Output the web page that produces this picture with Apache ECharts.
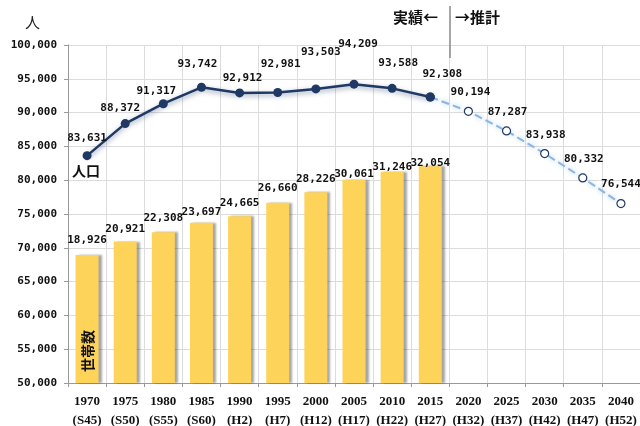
<!DOCTYPE html>
<html>
<head>
<meta charset="utf-8">
<script src="https://cdn.jsdelivr.net/npm/echarts@6/dist/echarts.min.js"></script>
<style>html,body{margin:0;padding:0;background:#fff;}#c{width:640px;height:426px;}</style>
</head>
<body>
<div id="c"></div>
<script>
const years = ['1970','1975','1980','1985','1990','1995','2000','2005','2010','2015','2020','2025','2030','2035','2040'];
const eras = ['S45','S50','S55','S60','H2','H7','H12','H17','H22','H27','H32','H37','H42','H47','H52'];
const population = [83631, 88372, 91317, 93742, 92912, 92981, 93503, 94209, 93588, 92308, 90194, 87287, 83938, 80332, 76544];
const households = [18926, 20921, 22308, 23697, 24665, 26660, 28226, 30061, 31246, 32054];
const actualCount = 10;
const yTicks = {min: 50000, max: 100000, step: 5000};

function fmt(v){ return String(v).replace(/\B(?=(\d{3})+(?!\d))/g, ','); }

// label placement styling (pixel lift above the point, horizontal shift)
const popLift = [19,16,14,24,16,29,38,41,26,24,20,20,19,20,20];
const popShift = [0,-5,-7,-4,3,3,5,4,6,12,2,1,1,1,0];
const barLift = [16,14,16,12,15,16,15,7,6,5];

const cats = years.map((y,i)=> y + '\n(' + eras[i] + ')');
const numFont = {fontFamily:'DejaVu Sans Mono', fontWeight:'bold', fontSize:11, color:'#111'};

function popItem(v,i){
  return {value:v, label:{offset:[popShift[i], -(popLift[i]-11)]}};
}
const actual = population.map((v,i)=> i < actualCount ? popItem(v,i) : '-');
const forecast = population.map((v,i)=> i >= actualCount-1 ? popItem(v,i) : '-');
const bars = households.map((v,i)=> ({value:v, label:{offset:[0, -(barLift[i]-7)]}}));

const chart = echarts.init(document.getElementById('c'));
chart.setOption({
  animation:false,
  backgroundColor:'#fff',
  grid:{left:68, right:0, top:45, bottom:43, containLabel:false, outerBoundsMode:'none'},
  xAxis:{
    type:'category', data:cats, boundaryGap:true,
    axisLine:{lineStyle:{color:'#999'}},
    axisTick:{show:true, length:4, lineStyle:{color:'#999'}},
    splitLine:{show:true, lineStyle:{color:'#dcdcdc'}},
    axisLabel:{interval:0, margin:9, fontFamily:'Liberation Serif', fontWeight:'bold', fontSize:13, lineHeight:19, color:'#111'}
  },
  yAxis:[{
    type:'value', min:yTicks.min, max:yTicks.max, interval:yTicks.step,
    axisLine:{show:true, lineStyle:{color:'#999'}},
    axisTick:{show:true, length:4, lineStyle:{color:'#999'}},
    splitLine:{show:true, lineStyle:{color:'#dcdcdc'}},
    axisLabel:{margin:11, formatter:v=>fmt(v), fontFamily:'DejaVu Sans Mono', fontWeight:'bold', fontSize:11, color:'#111'}
  },{
    type:'value', min:0, max:yTicks.max - yTicks.min, show:false, splitLine:{show:false}
  }],
  series:[{
    type:'bar', yAxisIndex:1, data:bars, barWidth:23,
    itemStyle:{color:'#FDD35A', shadowColor:'rgba(0,0,0,0.35)', shadowOffsetX:3, shadowBlur:2},
    label:{show:true, position:'top', distance:0, formatter:p=>fmt(p.value), ...numFont}
  },{
    type:'line', data:forecast, symbol:'circle', symbolSize:8,
    lineStyle:{color:'#8CB6E0', width:2, type:'dashed', shadowColor:'rgba(120,170,220,0.6)', shadowBlur:5},
    itemStyle:{color:'#fff', borderColor:'#1F3864', borderWidth:1.2},
    label:{show:true, position:'top', distance:0, formatter:p=> p.dataIndex >= actualCount ? fmt(p.value) : '', ...numFont},
    z:3
  },{
    type:'line', data:actual, symbol:'circle', symbolSize:9,
    lineStyle:{color:'#1F3864', width:2.5, shadowColor:'rgba(31,56,100,0.5)', shadowBlur:5, shadowOffsetY:2},
    itemStyle:{color:'#1F3864'},
    label:{show:true, position:'top', distance:0, formatter:p=>fmt(p.value), ...numFont},
    z:4
  }],
  graphic:[
    {type:'text', left:25, top:15, z:100, style:{text:'人', font:'15px "Noto Sans CJK JP"', fill:'#222'}},
    {type:'text', left:72, top:164, z:100, style:{text:'人口', font:'bold 14px "Noto Sans CJK JP"', fill:'#111'}},
    {type:'text', x:88, y:351, z:100, rotation:Math.PI/2, style:{text:'世帯数', font:'bold 14px "Noto Sans CJK JP"', fill:'#111', align:'center', verticalAlign:'middle'}},
    {type:'text', left:393, top:10, z:100, style:{text:'実績←', font:'bold 15px "Noto Sans CJK JP"', fill:'#111'}},
    {type:'text', left:455, top:10, z:100, style:{text:'→推計', font:'bold 15px "Noto Sans CJK JP"', fill:'#111'}},
    {type:'line', z:100, shape:{x1:450, y1:6, x2:450, y2:58}, style:{stroke:'#888', lineWidth:1.5}}
  ]
});
</script>
</body>
</html>
